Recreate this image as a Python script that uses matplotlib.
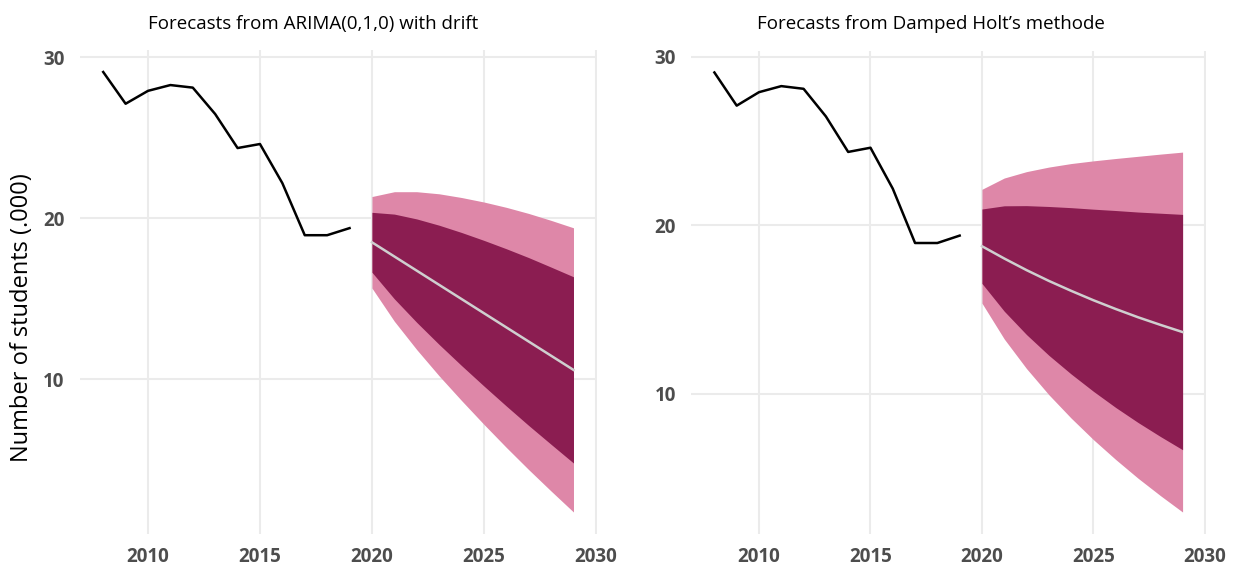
import matplotlib
matplotlib.use("Agg")
import matplotlib.pyplot as plt

# ---- data ----
years_hist = [2008, 2009, 2010, 2011, 2012, 2013, 2014, 2015, 2016, 2017, 2018, 2019]
students_hist = [29.07, 27.10, 27.90, 28.26, 28.10, 26.46, 24.35, 24.60, 22.17, 18.94, 18.94, 19.38]

years_fc = [2020, 2021, 2022, 2023, 2024, 2025, 2026, 2027, 2028, 2029]

arima_mean = [18.50, 17.62, 16.74, 15.86, 14.98, 14.10, 13.22, 12.34, 11.46, 10.58]
arima_lo80 = [16.64, 14.99, 13.53, 12.16, 10.85, 9.58, 8.34, 7.13, 5.96, 4.80]
arima_hi80 = [20.36, 20.25, 19.95, 19.56, 19.11, 18.62, 18.10, 17.55, 16.96, 16.36]
arima_lo95 = [15.66, 13.60, 11.84, 10.21, 8.68, 7.20, 5.77, 4.39, 3.06, 1.76]
arima_hi95 = [21.34, 21.64, 21.64, 21.51, 21.28, 21.00, 20.67, 20.29, 19.86, 19.40]

holt_mean = [18.75, 18.02, 17.33, 16.69, 16.10, 15.54, 15.02, 14.53, 14.08, 13.65]
holt_lo80 = [16.54, 14.89, 13.50, 12.27, 11.16, 10.13, 9.17, 8.28, 7.45, 6.66]
holt_hi80 = [20.96, 21.15, 21.16, 21.11, 21.04, 20.95, 20.87, 20.78, 20.71, 20.64]
holt_lo95 = [15.37, 13.24, 11.48, 9.93, 8.54, 7.26, 6.08, 4.97, 3.94, 2.96]
holt_hi95 = [22.13, 22.80, 23.18, 23.45, 23.66, 23.82, 23.96, 24.09, 24.22, 24.34]

titles = ["Forecasts from ARIMA(0,1,0) with drift", "Forecasts from Damped Holt\u2019s methode"]
x_ticks = [2010, 2015, 2020, 2025, 2030]
y_ticks = [10, 20, 30]
y_label = "Number of students (.000)"

# ---- style ----
FONT = ["Open Sans", "DejaVu Sans"]
C95 = "#DE87A8"
C80 = "#8B1D51"
CMEAN = "#CFCFCF"
GRID = "#EBEBEB"
TICKC = "#4D4D4D"

fig = plt.figure(figsize=(12.39, 5.65), dpi=100)
W, H = 1239, 565
axes_px = [(79.7, 597.0, 50.0, 534.0), (691.0, 1206.0, 50.5, 534.0)]
fcs = [
    (arima_mean, arima_lo80, arima_hi80, arima_lo95, arima_hi95),
    (holt_mean, holt_lo80, holt_hi80, holt_lo95, holt_hi95),
]

for i, ((x0, x1, ytop, ybot), fc) in enumerate(zip(axes_px, fcs)):
    ax = fig.add_axes([x0 / W, 1 - ybot / H, (x1 - x0) / W, (ybot - ytop) / H])
    mean, lo80, hi80, lo95, hi95 = fc
    ax.fill_between(years_fc, lo95, hi95, color=C95, lw=0, zorder=2)
    ax.fill_between(years_fc, lo80, hi80, color=C80, lw=0, zorder=3)
    ax.plot(years_fc, mean, color=CMEAN, lw=1.8, zorder=4)
    ax.plot(years_hist, students_hist, color="black", lw=1.8, zorder=4)

    ymin = min(lo95 + students_hist)
    ymax = max(hi95 + students_hist)
    rng = ymax - ymin
    ax.set_ylim(ymin - 0.05 * rng, ymax + 0.05 * rng)
    ax.set_xlim(2008 - 0.05 * 21, 2029 + 0.05 * 21)
    ax.set_xticks(x_ticks)
    ax.set_yticks(y_ticks)
    ax.grid(True, color=GRID, lw=1.5, zorder=0)
    ax.set_axisbelow(True)
    for s in ax.spines.values():
        s.set_visible(False)
    ax.tick_params(axis="x", length=0, pad=9, colors=TICKC)
    ax.tick_params(axis="y", length=0, pad=11, colors=TICKC)
    for lab in ax.get_xticklabels() + ax.get_yticklabels():
        lab.set_fontfamily(FONT)
        lab.set_fontweight("bold")
        lab.set_fontsize(13.5)
        lab.set_color(TICKC)

fig.text(313 / W, 1 - 24 / H, titles[0], ha="center", va="center", fontsize=13.5, family=FONT)
fig.text(931 / W, 1 - 24 / H, titles[1], ha="center", va="center", fontsize=13.5, family=FONT)
fig.text(22 / W, 1 - 318 / H, y_label, ha="center", va="center", rotation=90, fontsize=17, family=FONT)

fig.savefig("out.png", dpi=100, facecolor="white")
